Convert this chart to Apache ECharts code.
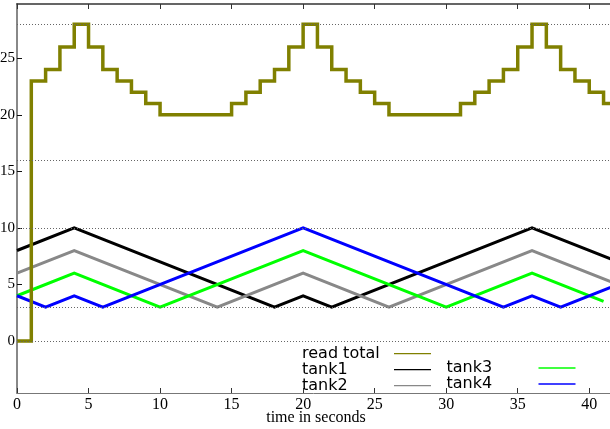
<!DOCTYPE html>
<html>
<head>
<meta charset="utf-8">
<script src="https://cdn.jsdelivr.net/npm/echarts@6/dist/echarts.min.js"></script>
<style>
html,body{margin:0;padding:0;background:#fff;}
#chart{width:610px;height:429px;}
</style>
</head>
<body>
<div id="chart"></div>
<script>
// ---- data ----
const xTicks = [0, 5, 10, 15, 20, 25, 30, 35, 40];
const yTicks = [0, 5, 10, 15, 20, 25];
const guideValues = [0, 3, 10, 16, 28];

const totalTime = [0,1,2,3,4,5,6,7,8,9,10,11,12,13,14,15,16,17,18,19,20,21,22,23,24,25,26,27,28,29,30,31,32,33,34,35,36,37,38,39,40,41,42];
const readTotal = [0,23,24,26,28,26,24,23,22,21,20,20,20,20,20,21,22,23,24,26,28,26,24,23,22,21,20,20,20,20,20,21,22,23,24,26,28,26,24,23,22,21,21];

const tank1Time = [0, 4, 18, 20, 22, 36, 42];
const tank1 = [8, 10, 3, 4, 3, 10, 7];
const tank2Time = [0, 4, 14, 20, 26, 36, 42];
const tank2 = [6, 8, 3, 6, 3, 8, 5];
const tank3Time = [0, 4, 10, 20, 30, 36, 41];
const tank3 = [4, 6, 3, 8, 3, 6, 3.5];
const tank4Time = [0, 2, 4, 6, 20, 34, 36, 38, 42];
const tank4 = [4, 3, 4, 3, 10, 3, 4, 3, 5];

const seriesNames = ['read total', 'tank1', 'tank2', 'tank3', 'tank4'];
const seriesColors = ['#808000', '#000000', '#888888', '#00ff00', '#0000ff'];

function pairs(xs, ys) { return xs.map((x, i) => [x, ys[i]]); }

const serif = 'Liberation Serif';
const sans = 'DejaVu Sans';

function lineSeries(name, color, data, width, extra) {
  return Object.assign({
    name: name,
    type: 'line',
    data: data,
    symbol: 'none',
    showSymbol: false,
    clip: true,
    itemStyle: { color: color },
    lineStyle: { color: color, width: width, join: 'miter' },
    emphasis: { disabled: true }
  }, extra || {});
}

const legendText = {
  fontFamily: sans, fontSize: 16, color: '#000',
  rich: { n: { width: 87, fontFamily: sans, fontSize: 16, lineHeight: 15.4, align: 'left', color: '#000' } }
};
const legendBase = {
  orient: 'vertical', align: 'right', icon: 'rect', itemWidth: 37, itemHeight: 1.4,
  itemGap: 0, padding: 0, selectedMode: false,
  formatter: '{n|{name}}', textStyle: legendText,
  itemStyle: { borderWidth: 0 }
};

const chart = echarts.init(document.getElementById('chart'), null, { renderer: 'canvas' });
chart.setOption({
  animation: false,
  backgroundColor: '#fff',
  grid: { left: 17, right: 0, top: 4, bottom: 36, containLabel: false, outerBoundsMode: 'none' },
  legend: [
    Object.assign({}, legendBase, { left: 302, top: 345.6, data: [seriesNames[0], seriesNames[1], seriesNames[2]] }),
    Object.assign({}, legendBase, { left: 446.5, top: 360, data: [seriesNames[3], seriesNames[4]] })
  ],
  xAxis: [
    {
      type: 'value', position: 'bottom', min: 0, max: 41.45,
      name: 'time in seconds', nameLocation: 'middle', nameGap: 17, nameMoveOverlap: false,
      nameTextStyle: { fontFamily: serif, fontSize: 16, color: '#000', padding: [0, 0, 0, 5] },
      axisLine: { show: true, onZero: false, lineStyle: { color: '#777', width: 1 } },
      axisTick: { show: true, inside: true, length: 5, customValues: xTicks, lineStyle: { color: '#333', width: 1 } },
      axisLabel: { customValues: xTicks, fontFamily: serif, fontSize: 16, color: '#000', margin: 4 },
      splitLine: { show: false }
    },
    {
      type: 'value', position: 'top', min: 0, max: 41.45,
      axisLine: { show: true, onZero: false, lineStyle: { color: '#333', width: 1.5 } },
      axisTick: { show: true, inside: true, length: 5, customValues: xTicks, lineStyle: { color: '#333', width: 1 } },
      axisLabel: { show: false },
      splitLine: { show: false }
    }
  ],
  yAxis: {
    type: 'value', min: -4.6, max: 29.8,
    axisLine: { show: true, onZero: false, lineStyle: { color: '#888', width: 2 } },
    axisTick: { show: true, inside: true, length: 5, customValues: yTicks, lineStyle: { color: '#111', width: 1 } },
    axisLabel: { customValues: yTicks, fontFamily: serif, fontSize: 15, color: '#000', margin: 2 },
    splitLine: { show: false }
  },
  series: [
    lineSeries(seriesNames[1], seriesColors[1], pairs(tank1Time, tank1), 3, {
      markLine: {
        silent: true, symbol: ['none', 'none'], label: { show: false },
        lineStyle: { type: [1, 2], color: '#666', width: 1 },
        emphasis: { disabled: true },
        data: guideValues.map(v => ({ yAxis: v }))
      }
    }),
    lineSeries(seriesNames[2], seriesColors[2], pairs(tank2Time, tank2), 3),
    lineSeries(seriesNames[3], seriesColors[3], pairs(tank3Time, tank3), 3),
    lineSeries(seriesNames[4], seriesColors[4], pairs(tank4Time, tank4), 3),
    lineSeries(seriesNames[0], seriesColors[0], pairs(totalTime, readTotal), 3.5, { step: 'end' })
  ]
});
</script>
</body>
</html>
